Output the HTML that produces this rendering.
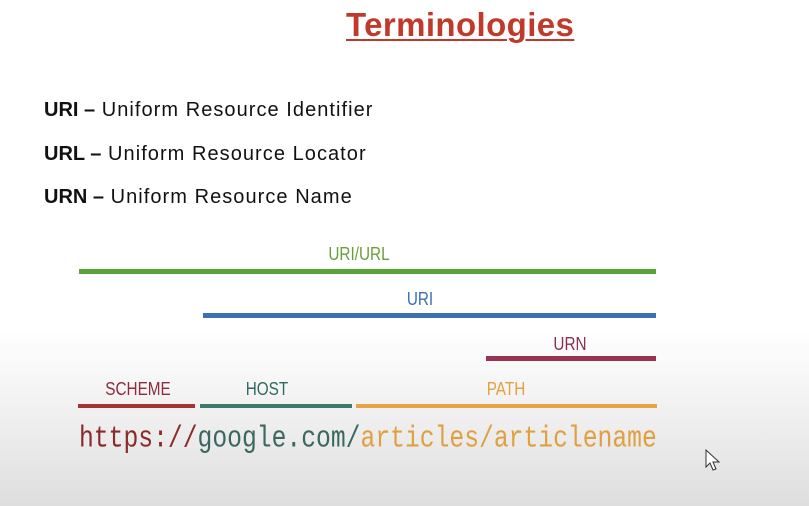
<!DOCTYPE html>
<html><head><meta charset="utf-8"><style>
html,body{margin:0;padding:0}
body{width:809px;height:506px;position:relative;overflow:hidden;font-family:"Liberation Sans",sans-serif;
background:linear-gradient(to bottom,#fff 0px,#fff 330px,#f6f6f6 380px,#ebebeb 440px,#dedede 506px);}
.a{position:absolute;white-space:nowrap}
.t{left:346px;top:6px;font-size:33px;font-weight:bold;color:#c0392b;text-decoration:underline;text-decoration-thickness:2px;text-underline-offset:3px;letter-spacing:0.4px}
.d{left:44px;font-size:20px;color:#111;letter-spacing:1.05px}
.d b{font-weight:bold;letter-spacing:0}
.bar{position:absolute;height:5px}
.l{font-size:18px;transform:scaleX(0.85);transform-origin:center;text-align:center;width:120px}
.u{left:79px;top:429px;font-family:"Liberation Mono",monospace;font-size:24.7px;transform:scaleY(1.22);transform-origin:left bottom;line-height:26px}
</style></head><body>
<div class="a t">Terminologies</div>
<div class="a d" style="top:99px"><b>URI –</b> Uniform Resource Identifier</div>
<div class="a d" style="top:143px"><b>URL –</b> Uniform Resource Locator</div>
<div class="a d" style="top:186px"><b>URN –</b> Uniform Resource Name</div>

<div class="a l" style="left:299px;top:244px;color:#6a9e3a">URI/URL</div>
<div class="bar" style="left:79px;top:269px;width:577px;background:#58a33a"></div>
<div class="a l" style="left:360px;top:289px;color:#3b6fb0">URI</div>
<div class="bar" style="left:203px;top:313px;width:453px;background:#3c6fb6"></div>
<div class="a l" style="left:510px;top:334px;color:#8a2f4e">URN</div>
<div class="bar" style="left:486px;top:356px;width:170px;background:#993352"></div>

<div class="a l" style="left:78px;top:379px;color:#8c2c3e">SCHEME</div>
<div class="a l" style="left:207px;top:379px;color:#2f6a60">HOST</div>
<div class="a l" style="left:446px;top:379px;color:#e3a040">PATH</div>
<div class="bar" style="left:78px;top:404px;width:117px;height:4px;background:#a33434"></div>
<div class="bar" style="left:200px;top:404px;width:152px;height:4px;background:#3e7a6c"></div>
<div class="bar" style="left:356px;top:404px;width:301px;height:4px;background:#e8a444"></div>

<div class="a u"><span style="color:#8b2a2a">https://</span><span style="color:#3a6860">google.com/</span><span style="color:#e0a040">articles/articlename</span></div>

<svg class="a" style="left:704px;top:449px" width="18" height="24" viewBox="0 0 18 24"><path d="M2 1 L2 18 L6 14 L9 21 L12 20 L9 13 L15 13 Z" fill="#fff" stroke="#333" stroke-width="1"/></svg>
</body></html>
